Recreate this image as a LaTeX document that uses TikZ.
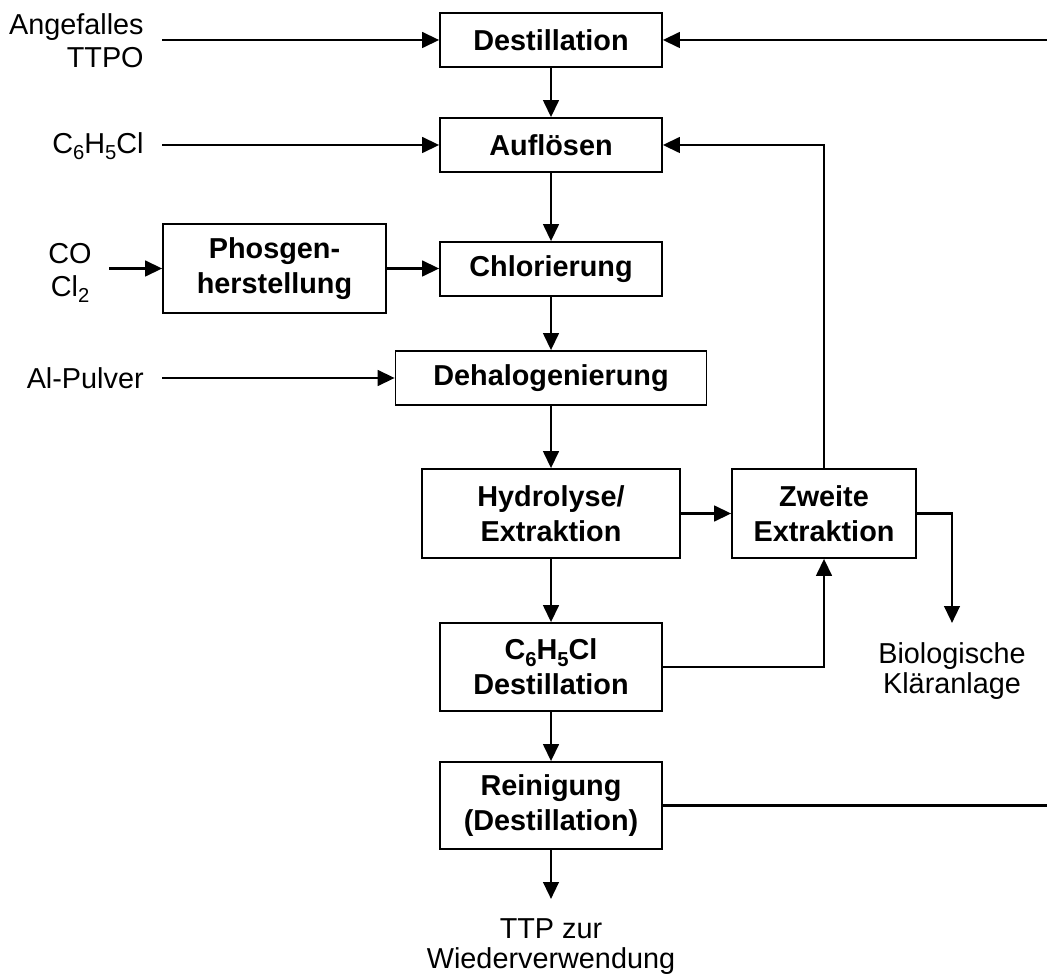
\documentclass[tikz,border=0pt]{standalone}
\usepackage{fontspec}
\setmainfont{Liberation Sans}
\usetikzlibrary{arrows.meta}
\newcommand{\chemsub}[1]{\raisebox{-0.22em}{\fontsize{11.5}{11.5}\selectfont #1}}

\begin{document}
\begin{tikzpicture}[x=0.02cm,y=-0.02cm,font=\fontsize{16.4}{19}\selectfont,
  stage/.style={draw,line width=0.95pt,align=center,inner sep=0pt,
    minimum width=4.44cm,minimum height=1.08cm,
    font=\fontsize{16.4}{20}\selectfont\bfseries},
  inlabel/.style={align=right,anchor=east,inner xsep=0.36cm},
  outlabel/.style={align=center,anchor=north,inner ysep=0.38cm,
    font=\fontsize{16.4}{17.5}\selectfont},
  flow/.style={line width=1.55pt,-{Triangle[length=0.34cm,width=0.31cm]}}]
\useasboundingbox (0,0) rectangle (1047,979);

\node[stage] (dest) at (551,40) {Destillation};
\node[stage] (aufl) at (551,145) {Auflösen};
\node[stage,minimum width=4.46cm,minimum height=1.78cm] (phos) at (274.5,268.5) {Phosgen-\\herstellung};
\node[stage] (chlor) at (551,269) {Chlorierung};
\node[stage,minimum width=6.22cm] (dehal) at (551,378) {Dehalogenierung};
\node[stage,minimum width=5.16cm,minimum height=1.78cm] (hydro) at (551,513.5) {Hydrolyse/\\Extraktion};
\node[stage,minimum width=3.68cm,minimum height=1.78cm] (zweite) at (824,513.5) {Zweite\\Extraktion};
\node[stage,minimum height=1.76cm] (cdest) at (551,667) {C\chemsub{6}H\chemsub{5}Cl\\Destillation};
\node[stage,minimum height=1.74cm] (rein) at (551,805.5) {Reinigung\\(Destillation)};

\node[inlabel] (ttpo) at (162,40.5) {Angefalles\\TTPO};
\node[inlabel] (chlb) at (162,146) {C\chemsub{6}H\chemsub{5}Cl};
\node[inlabel,align=center,inner xsep=0.34cm] (cocl) at (109,273) {CO\\Cl\chemsub{2}};
\node[inlabel] (alp) at (162,378) {Al-Pulver};

\node[outlabel] (klaer) at (952,623) {Biologische\\Kläranlage};
\node[outlabel] (ttp) at (551,899) {TTP zur\\Wiederverwendung};

\coordinate (backtop) at (1047,40);
\coordinate (backbot) at (1047,805.5);

\foreach \a/\b in {dest/aufl,aufl/chlor,chlor/dehal,dehal/hydro,hydro/cdest,cdest/rein,rein/ttp}
  \draw[flow] (\a.south) -- (\b.north);
\foreach \a/\b in {ttpo/dest,chlb/aufl,cocl/phos,alp/dehal}
  \draw[flow] (\a.east |- \b.west) -- (\b.west);
\draw[flow] (phos.east) -- (phos.east -| chlor.west);
\draw[flow] (hydro) -- (zweite);
\draw[flow] (zweite.north) |- (aufl.east);
\draw[flow] (cdest.east) -| (zweite.south);
\draw[flow] (zweite.east) -| (klaer.north);
\draw[line width=1.55pt] (rein.east) -- (backbot);
\draw[flow] (backtop) -- (dest.east);
\end{tikzpicture}
\end{document}
